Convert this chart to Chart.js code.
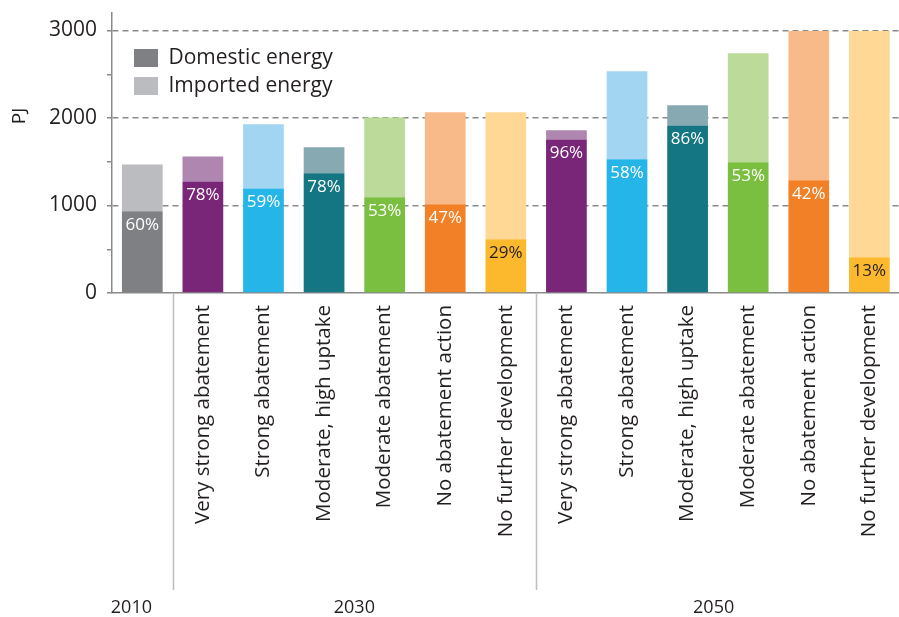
<!DOCTYPE html>
<html>
<head>
<meta charset="utf-8">
<script src="https://cdn.jsdelivr.net/npm/chart.js@4/dist/chart.umd.min.js"></script>
<style>
  html, body { margin: 0; padding: 0; background: #fff; overflow: hidden; }
  #wrap { width: 906px; height: 617px; }
</style>
</head>
<body>
<div id="wrap"><canvas id="energyChart" width="906" height="617"></canvas></div>
<script>
// scenario names (first bar is the 2010 baseline, no label)
const scenarios = ['', 'Very strong abatement', 'Strong abatement', 'Moderate, high uptake',
  'Moderate abatement', 'No abatement action', 'No further development',
  'Very strong abatement', 'Strong abatement', 'Moderate, high uptake',
  'Moderate abatement', 'No abatement action', 'No further development'];
const years = ['2010', '2030', '2050'];

// PJ
const domestic = [935, 1275, 1195, 1370, 1095, 1015, 615, 1755, 1530, 1915, 1495, 1290, 410];
const imported = [535, 285, 735, 295, 910, 1050, 1450, 105, 1005, 230, 1245, 1705, 2585];
const shareLabels = ['60%', '78%', '59%', '78%', '53%', '47%', '29%', '96%', '58%', '86%', '53%', '42%', '13%'];

const yTickValues = [0, 500, 1000, 1500, 2000, 2500, 3000];

const domesticColors = ['#7f8083', '#7a2678', '#25b5e8', '#137682', '#7bbf41', '#f28026', '#fdb92e',
  '#7a2678', '#25b5e8', '#137682', '#7bbf41', '#f28026', '#fdb92e'];
const importedColors = ['#bbbcbf', '#ae86af', '#a2d5f2', '#87a9b1', '#bcdb9b', '#f8ba89', '#fed894',
  '#ae86af', '#a2d5f2', '#87a9b1', '#bcdb9b', '#f8ba89', '#fed894'];
const shareTextColors = ['#fff', '#fff', '#fff', '#fff', '#fff', '#fff', '#231f20',
  '#fff', '#fff', '#fff', '#fff', '#fff', '#231f20'];

const textColor = '#231f20';
const axisColor = '#8a8a8a';
const FONT = '"Open Sans", "DejaVu Sans", sans-serif';

// extra drawing: share labels, group separators, year labels, axis title
const decorations = {
  id: 'decorations',
  afterLayout(chart) {
    // vertical legend inside the plot: chart.js resets its top to 0, so place it here
    const lg = chart.legend;
    lg.left = chart.chartArea.left + 15;
    lg.top = chart.chartArea.top + 27.5;
  },
  afterDatasetsDraw(chart) {
    const ctx = chart.ctx;
    const meta = chart.getDatasetMeta(0);
    ctx.save();
    ctx.font = '17px ' + FONT;
    ctx.textAlign = 'center';
    ctx.textBaseline = 'middle';
    meta.data.forEach((bar, i) => {
      ctx.fillStyle = shareTextColors[i];
      ctx.fillText(shareLabels[i], bar.x, bar.y + 14);
    });
    ctx.restore();
  },
  afterDraw(chart) {
    const ctx = chart.ctx;
    const xs = chart.scales.x;
    const ys = chart.scales.y;
    const area = chart.chartArea;
    const step = xs.getPixelForValue(1) - xs.getPixelForValue(0);
    const x0 = xs.getPixelForValue(0);

    ctx.save();
    // separators between 2010 | 2030 | 2050
    ctx.strokeStyle = '#bdbdbd';
    ctx.lineWidth = 1.5;
    [0.5, 6.5].forEach(v => {
      const px = Math.round(x0 + v * step) + 0.5;
      ctx.beginPath();
      ctx.moveTo(px, area.bottom + 1);
      ctx.lineTo(px, 590);
      ctx.stroke();
    });

    // year labels
    ctx.fillStyle = textColor;
    ctx.font = '18px ' + FONT;
    ctx.textAlign = 'center';
    ctx.textBaseline = 'middle';
    [-0.18, 3.5, 9.43].forEach((v, i) => {
      ctx.fillText(years[i], x0 + v * step, 608);
    });

    // axis title
    ctx.font = '19px ' + FONT;
    ctx.translate(19.5, ys.getPixelForValue(2000) - 2);
    ctx.rotate(-Math.PI / 2);
    ctx.fillText('PJ', 0, 0);
    ctx.restore();
  }
};

new Chart(document.getElementById('energyChart'), {
  type: 'bar',
  data: {
    labels: scenarios,
    datasets: [
      { label: 'Domestic energy', data: domestic, backgroundColor: domesticColors, borderWidth: 0 },
      { label: 'Imported energy', data: imported, backgroundColor: importedColors, borderWidth: 0 }
    ]
  },
  options: {
    responsive: false,
    animation: false,
    layout: { padding: { top: 13, right: 1, left: 0, bottom: 0 } },
    datasets: { bar: { categoryPercentage: 1, barPercentage: 0.672 } },
    plugins: {
      tooltip: { enabled: false },
      legend: {
        position: 'chartArea',
        align: 'start',
        labels: {
          boxWidth: 24,
          boxHeight: 18,
          padding: 7,
          color: textColor,
          font: { family: FONT, size: 21 },
          generateLabels(chart) {
            return Chart.defaults.plugins.legend.labels.generateLabels(chart).map((item, i) => ({
              ...item,
              fillStyle: i === 0 ? domesticColors[0] : importedColors[0],
              strokeStyle: 'rgba(0,0,0,0)',
              lineWidth: 0
            }));
          }
        }
      }
    },
    scales: {
      x: {
        stacked: true,
        afterFit(s) { s.height = 617 - 293; },
        grid: { display: false, drawTicks: false },
        border: { display: true, color: axisColor, width: 1.5 },
        ticks: {
          autoSkip: false,
          minRotation: 90,
          maxRotation: 90,
          padding: 12,
          color: textColor,
          font: { family: FONT, size: 20.5 }
        }
      },
      y: {
        stacked: true,
        min: 0,
        max: 3200,
        afterFit(s) {
          s.width = 112;
          s.paddingTop = 0;
          s.paddingBottom = 0;
        },
        afterBuildTicks(s) { s.ticks = yTickValues.map(v => ({ value: v })); },
        grid: {
          color: c => (c.tick && c.tick.value > 0 && c.tick.value % 1000 === 0) ? axisColor : 'rgba(0,0,0,0)',
          tickColor: axisColor,
          tickLength: 5,
          lineWidth: 1.5
        },
        border: { display: true, color: axisColor, width: 1.5, dash: [6, 4] },
        ticks: {
          padding: 10,
          color: textColor,
          font: { family: FONT, size: 21 },
          callback: v => (v % 1000 === 0 ? String(v) : '')
        }
      }
    }
  },
  plugins: [decorations]
});
</script>
</body>
</html>
